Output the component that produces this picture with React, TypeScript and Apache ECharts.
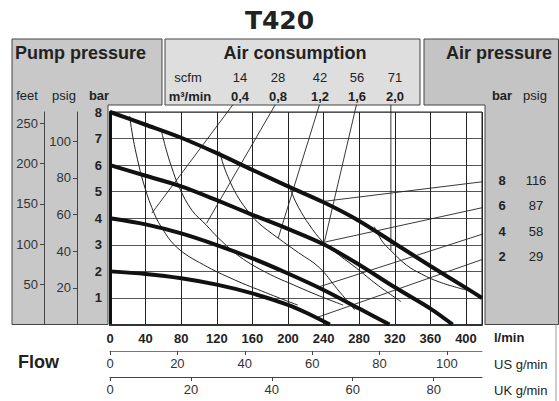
import React, { useEffect, useRef } from "react";
import * as echarts from "echarts";

// ---------- data ----------
const FLOW_MAX_LMIN = 418; // flow at right edge of plot (l/min)
const L_PER_US_GAL = 3.78541;
const L_PER_UK_GAL = 4.54609;
const PSI_PER_BAR = 14.5;
const FEET_PER_BAR = 33;

const flowTicks = [0, 40, 80, 120, 160, 200, 240, 280, 320, 360, 400];
const usTicks = [0, 20, 40, 60, 80, 100];
const ukTicks = [0, 20, 40, 60, 80];
const psigTicks = [20, 40, 60, 80, 100];
const feetTicks = [50, 100, 150, 200, 250];

const airBar = ["8", "6", "4", "2"];
const airPsig = ["116", "87", "58", "29"];
const scfmValues = ["14", "28", "42", "56", "71"];
const m3minValues = ["0,4", "0,8", "1,2", "1,6", "2,0"];

// pump pressure (bar) vs flow (l/min) at air pressure 8/6/4/2 bar
const curve8bar = [[0, 8], [40, 7.52], [80, 7.03], [120, 6.45], [160, 5.82], [200, 5.2], [240, 4.6], [280, 3.9], [320, 3.05], [360, 2.2], [400, 1.38], [418, 1.0]];
const curve6bar = [[0, 6], [40, 5.6], [80, 5.2], [120, 4.68], [160, 4.13], [200, 3.6], [240, 3.02], [280, 2.25], [320, 1.4], [360, 0.6], [385, 0]];
const curve4bar = [[0, 4], [40, 3.77], [80, 3.43], [120, 2.99], [160, 2.49], [200, 1.92], [240, 1.3], [280, 0.6], [314, 0]];
const curve2bar = [[0, 2], [40, 1.9], [80, 1.74], [120, 1.5], [160, 1.17], [200, 0.74], [220, 0.45], [247, 0]];

// air consumption iso-lines (m3/min)
const air04 = [[22, 7.85], [26, 7.0], [31, 6.2], [37, 5.4], [47, 4.4], [58, 3.65], [76, 2.88], [105, 2.25], [140, 1.68], [175, 1.2], [211, 0.73]];
const air08 = [[58, 7.25], [63, 6.6], [69, 5.95], [78, 5.15], [92, 4.3], [108, 3.75], [122, 3.25], [146, 2.55], [176, 1.95], [209, 1.45], [235, 1.08], [262, 0.73]];
const air12 = [[123, 6.52], [128, 5.95], [134, 5.45], [142, 4.9], [153, 4.35], [166, 3.85], [189, 3.25], [212, 2.7], [235, 2.15], [255, 1.35], [275, 0.55]];
const air16 = [[200, 5.4], [205, 4.9], [212, 4.4], [224, 3.75], [239, 3.12], [258, 2.6], [277, 2.12], [300, 1.5], [327, 0.86]];
const air20 = [[297, 3.68], [302, 3.35], [307, 3.08], [315, 2.8], [333, 2.24], [350, 1.9], [370, 1.6], [400, 1.3]];

// leader lines: [start, end] in (l/min, bar)
const topLeaders = [
  [[138, 8.27], [47, 4.19]],
  [[185.6, 8.27], [108.5, 3.81]],
  [[235.3, 8.27], [189, 3.25]],
  [[276.9, 8.27], [241, 3.12]],
  [[315.6, 8.27], [315.6, 2.8]],
];
const rightLeaders = [
  [[429.5, 5.42], [239, 4.63]],
  [[429.5, 4.48], [241, 3.1]],
  [[429.5, 3.52], [235, 1.42]],
  [[429.5, 2.58], [233, 0.27]],
];

// ---------- layout ----------
const W = 559;
const H = 401;
const GRID_L = 110;
const GRID_R = 482;
const GRID_T = 112;
const GRID_B = 324.5;
const FONT = "'Liberation Sans', Arial, sans-serif";

const txt = (text: string, x: number, y: number, size: number, bold: boolean, align = "center", color = "#222") => ({
  type: "text",
  z: 10,
  silent: true,
  style: {
    text,
    x,
    y,
    fill: color,
    font: `${bold ? "bold " : ""}${size}px ${FONT}`,
    textAlign: align,
    textVerticalAlign: "middle",
  },
});

export default function App() {
  const ref = useRef<HTMLDivElement>(null);

  useEffect(() => {
    if (!ref.current) return;
    const chart = echarts.init(ref.current, undefined, { renderer: "svg" });

    const headerColX = [240, 278, 320, 357, 395];
    const rightRowY = [180.5, 205.5, 231, 256];

    const graphics: any[] = [
      {
        type: "polygon",
        z: 0,
        silent: true,
        shape: { points: [[12, 39], [162, 39], [162, 105], [108, 105], [108, GRID_B], [12, GRID_B]] },
        style: { fill: "#c8c8c8", stroke: "#444", lineWidth: 1 },
      },
      {
        type: "rect",
        z: 0,
        silent: true,
        shape: { x: 165, y: 39, width: 255, height: 66 },
        style: { fill: "#dedede", stroke: "#444", lineWidth: 1 },
      },
      {
        type: "polygon",
        z: 0,
        silent: true,
        shape: { points: [[424, 39], [558.5, 39], [558.5, GRID_B], [485, GRID_B], [485, 105], [424, 105]] },
        style: { fill: "#c4c4c4", stroke: "#444", lineWidth: 1 },
      },
      {
        type: "line",
        z: 0,
        silent: true,
        shape: { x1: 556, y1: GRID_B, x2: 556, y2: H },
        style: { stroke: "#999", lineWidth: 1 },
      },
      {
        type: "text",
        z: 10,
        silent: true,
        style: {
          text: "T420",
          x: W / 2,
          y: 20,
          fill: "#222",
          font: `900 25px 'DejaVu Sans', sans-serif`,
          textAlign: "center",
          textVerticalAlign: "middle",
        },
      },
      txt("Pump pressure", 15, 53, 18, true, "left"),
      txt("feet", 27, 95, 13, false),
      txt("psig", 64, 95, 13, false),
      txt("bar", 99, 95, 13, true),
      txt("Air consumption", 295, 53, 18, true),
      txt("scfm", 188, 77, 13, false),
      txt("m³/min", 190, 96, 13, true),
      txt("Air pressure", 552, 53, 18, true, "right"),
      txt("bar", 502, 95, 13, true),
      txt("psig", 535, 95, 13, false),
      txt("l/min", 494, 337, 13, true, "left"),
      txt("US g/min", 494, 364, 13, false, "left"),
      txt("UK g/min", 494, 390, 13, false, "left"),
      txt("Flow", 18, 362, 18, true, "left"),
    ];
    scfmValues.forEach((s, i) => graphics.push(txt(s, headerColX[i], 77, 13, false)));
    m3minValues.forEach((s, i) => graphics.push(txt(s, headerColX[i], 96, 13, true)));
    airBar.forEach((s, i) => graphics.push(txt(s, 502, rightRowY[i], 13, true)));
    airPsig.forEach((s, i) => graphics.push(txt(s, 536, rightRowY[i], 13, false)));

    const thick = (name: string, data: number[][]) => ({
      type: "line",
      name,
      data,
      smooth: 0.3,
      symbol: "none",
      silent: true,
      z: 5,
      lineStyle: { color: "#111", width: 4 },
    });
    const thin = (name: string, data: number[][]) => ({
      type: "line",
      name,
      data,
      smooth: 0.4,
      symbol: "none",
      silent: true,
      z: 4,
      lineStyle: { color: "#222", width: 1 },
    });
    const leader = (name: string, data: number[][]) => ({
      type: "line",
      name,
      data,
      symbol: "none",
      silent: true,
      clip: false,
      z: 4,
      lineStyle: { color: "#222", width: 0.9 },
    });

    const hideNonTick = (ticks: number[]) => (v: number) => (ticks.includes(Math.round(v * 1000) / 1000) ? String(v) : "");

    const option: any = {
      animation: false,
      backgroundColor: "#fff",
      textStyle: { fontFamily: FONT },
      grid: {
        left: GRID_L,
        right: W - GRID_R,
        top: GRID_T,
        bottom: H - GRID_B,
        show: true,
        backgroundColor: "#fff",
        borderColor: "#222",
        borderWidth: 1,
      },
      graphic: { elements: graphics },
      xAxis: [
        {
          type: "value",
          position: "bottom",
          min: 0,
          max: FLOW_MAX_LMIN,
          interval: 40,
          axisLine: { show: true, onZero: false, lineStyle: { color: "#333", width: 2 } },
          axisTick: { show: false },
          axisLabel: {
            margin: 7,
            fontSize: 13,
            fontWeight: "bold",
            color: "#222",
            fontFamily: FONT,
            customValues: flowTicks,
            formatter: hideNonTick(flowTicks),
          },
          splitLine: { show: true, lineStyle: { color: "#222", width: 1 } },
        },
        {
          type: "value",
          position: "bottom",
          offset: 26.5,
          min: 0,
          max: FLOW_MAX_LMIN / L_PER_US_GAL,
          interval: 20,
          axisLine: { show: true, onZero: false, lineStyle: { color: "#777", width: 1 } },
          axisTick: { show: true, length: 4, lineStyle: { color: "#444" }, customValues: usTicks },
          axisLabel: {
            margin: 6,
            fontSize: 13,
            color: "#333",
            fontFamily: FONT,
            customValues: usTicks,
            formatter: hideNonTick(usTicks),
          },
          splitLine: { show: false },
        },
        {
          type: "value",
          position: "bottom",
          offset: 52.5,
          min: 0,
          max: FLOW_MAX_LMIN / L_PER_UK_GAL,
          interval: 20,
          axisLine: { show: true, onZero: false, lineStyle: { color: "#444", width: 1 } },
          axisTick: { show: true, length: 4, lineStyle: { color: "#444" }, customValues: ukTicks },
          axisLabel: {
            margin: 6,
            fontSize: 13,
            color: "#333",
            fontFamily: FONT,
            customValues: ukTicks,
            formatter: hideNonTick(ukTicks),
          },
          splitLine: { show: false },
        },
      ],
      yAxis: [
        {
          type: "value",
          position: "left",
          min: 0,
          max: 8,
          interval: 1,
          axisLine: { show: true, onZero: false, lineStyle: { color: "#111", width: 3 } },
          axisTick: { show: false },
          axisLabel: {
            margin: 8,
            fontSize: 13,
            fontWeight: "bold",
            color: "#222",
            fontFamily: FONT,
            formatter: (v: number) => (v === 0 ? "" : String(v)),
          },
          splitLine: { show: true, lineStyle: { color: "#555", width: 1 } },
        },
        {
          type: "value",
          position: "left",
          offset: 33,
          min: 0,
          max: 8 * PSI_PER_BAR,
          interval: 20,
          axisLine: { show: true, onZero: false, lineStyle: { color: "#444", width: 1 } },
          axisTick: { show: true, length: 4, lineStyle: { color: "#444" }, customValues: psigTicks },
          axisLabel: {
            margin: 6,
            fontSize: 13,
            color: "#333",
            fontFamily: FONT,
            customValues: psigTicks,
            formatter: hideNonTick(psigTicks),
          },
          splitLine: { show: false },
        },
        {
          type: "value",
          position: "left",
          offset: 66,
          min: 0,
          max: 8 * FEET_PER_BAR,
          interval: 50,
          axisLine: { show: true, onZero: false, lineStyle: { color: "#444", width: 1 } },
          axisTick: { show: true, length: 4, lineStyle: { color: "#444" }, customValues: feetTicks },
          axisLabel: {
            margin: 6,
            fontSize: 13,
            color: "#333",
            fontFamily: FONT,
            customValues: feetTicks,
            formatter: hideNonTick(feetTicks),
          },
          splitLine: { show: false },
        },
      ],
      series: [
        thick("8 bar", curve8bar),
        thick("6 bar", curve6bar),
        thick("4 bar", curve4bar),
        thick("2 bar", curve2bar),
        thin("0,4 m³/min", air04),
        thin("0,8 m³/min", air08),
        thin("1,2 m³/min", air12),
        thin("1,6 m³/min", air16),
        thin("2,0 m³/min", air20),
        ...topLeaders.map((d, i) => leader(`leader ${m3minValues[i]}`, d)),
        ...rightLeaders.map((d, i) => leader(`leader ${airBar[i]} bar`, d)),
      ],
    };

    chart.setOption(option);
    return () => chart.dispose();
  }, []);

  return (
    <div
      ref={ref}
      style={{ position: "fixed", left: 0, top: 0, width: W, height: H, background: "#fff" }}
    />
  );
}
